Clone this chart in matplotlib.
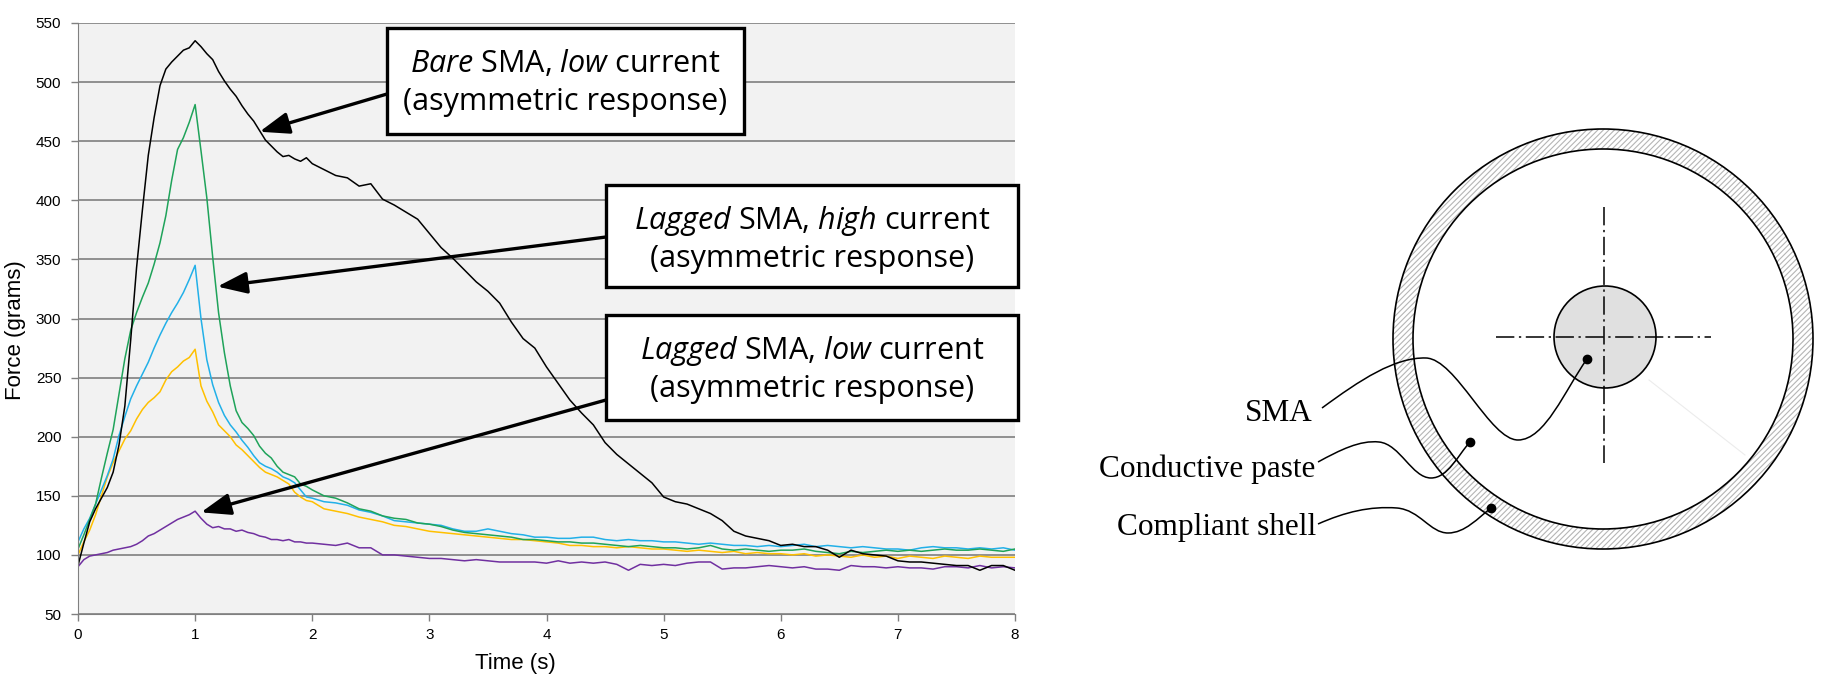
import numpy as np
import matplotlib
matplotlib.use("Agg")
import matplotlib.pyplot as plt
from matplotlib.patches import Rectangle, Circle, Annulus, PathPatch
from matplotlib.path import Path

plt.rcParams['font.family'] = ['Liberation Sans', 'DejaVu Sans']
plt.rcParams['mathtext.fontset'] = 'custom'
plt.rcParams['mathtext.rm'] = 'Open Sans'
plt.rcParams['mathtext.it'] = 'Open Sans:italic'
plt.rcParams['hatch.linewidth'] = 0.8

W, H = 1822, 690

# sampling grid: 0.05 s up to 2 s, then 0.1 s
time_s = np.round(np.concatenate([np.arange(0, 2.001, 0.05), np.arange(2.1, 8.001, 0.1)]), 2)

bare_low = [91, 110, 128, 139, 148, 157, 170, 193, 226, 282, 343, 392, 438, 470, 497, 511, 517, 522, 527, 529,
            535, 530, 524, 519, 509, 501, 494, 488, 480, 473, 467, 459, 451, 446, 441, 437, 438, 435, 433, 436, 431,
            426, 421, 419, 412, 414, 401, 396, 390, 384, 372,
            360, 351, 341, 331, 323, 313, 297, 283, 275, 259,
            245, 231, 220, 210, 195, 185, 177, 169, 161, 149,
            145, 143, 139, 135, 129, 120, 116, 114, 112, 108,
            109, 107, 107, 104, 98, 104, 101, 100, 99, 95,
            94, 94, 93, 92, 91, 91, 87, 91, 91, 87]

green = [105, 117, 130, 143, 165, 186, 206, 236, 266, 290, 305, 318, 330, 346, 364, 387, 417, 443, 453, 466,
         481, 442, 402, 352, 305, 271, 243, 222, 212, 207, 201, 192, 186, 182, 175, 170, 168, 166, 160, 158, 155,
         150, 148, 144, 139, 137, 133, 131, 130, 127, 126,
         124, 121, 119, 118, 117, 116, 115, 113, 113, 112,
         111, 111, 110, 110, 109, 108, 107, 108, 107, 106,
         106, 105, 106, 108, 105, 104, 105, 104, 103, 104,
         104, 105, 103, 102, 101, 103, 102, 103, 104, 103,
         104, 103, 104, 105, 104, 104, 105, 104, 103, 105]

blue = [111, 122, 131, 143, 155, 167, 181, 201, 217, 232, 243, 253, 263, 275, 286, 296, 305, 313, 322, 333,
        345, 300, 265, 244, 229, 218, 210, 204, 197, 191, 184, 178, 175, 173, 170, 166, 164, 161, 155, 149, 148,
        145, 144, 142, 138, 136, 133, 129, 128, 127, 126,
        125, 122, 120, 120, 122, 120, 118, 117, 115, 115,
        114, 114, 115, 115, 113, 112, 113, 112, 112, 111,
        111, 110, 109, 110, 109, 108, 108, 107, 108, 107,
        108, 109, 107, 108, 107, 106, 107, 106, 105, 105,
        104, 106, 107, 106, 106, 105, 106, 105, 106, 104]

yellow = [100, 111, 121, 134, 150, 166, 178, 188, 198, 205, 215, 223, 229, 233, 238, 248, 255, 259, 264, 267,
          274, 243, 230, 221, 210, 205, 200, 193, 189, 184, 179, 174, 170, 168, 166, 163, 160, 153, 149, 146, 145,
          139, 137, 135, 132, 130, 128, 125, 124, 122, 120,
          119, 118, 117, 116, 115, 114, 113, 113, 112, 111,
          110, 108, 108, 107, 107, 106, 107, 106, 105, 105,
          104, 103, 104, 103, 102, 103, 101, 102, 101, 101,
          100, 101, 99, 100, 99, 98, 100, 98, 99, 97,
          99, 98, 97, 99, 98, 97, 99, 98, 98, 98]

purple = [90, 96, 99, 100, 101, 102, 104, 105, 106, 107, 109, 112, 116, 118, 121, 124, 127, 130, 132, 134,
          137, 131, 126, 123, 124, 122, 122, 120, 121, 119, 118, 116, 115, 113, 113, 112, 113, 111, 111, 110, 110,
          109, 108, 110, 106, 106, 100, 100, 99, 98, 97,
          97, 96, 95, 96, 95, 94, 94, 94, 94, 93,
          95, 93, 94, 93, 94, 92, 87, 92, 91, 92,
          91, 93, 94, 94, 88, 89, 89, 90, 91, 90,
          89, 90, 88, 88, 87, 91, 90, 90, 89, 90,
          89, 89, 88, 90, 90, 89, 91, 89, 90, 89]

series = [(yellow, '#ffc000'), (blue, '#22b0e8'), (green, '#1fa35a'),
          (purple, '#7030a0'), (bare_low, '#000000')]

box_lines = [('$\\mathit{Bare}$ SMA, $\\mathit{low}$ current', '(asymmetric response)'),
             ('$\\mathit{Lagged}$ SMA, $\\mathit{high}$ current', '(asymmetric response)'),
             ('$\\mathit{Lagged}$ SMA, $\\mathit{low}$ current', '(asymmetric response)')]
arrow_tip_t = [1.55, 1.19, 1.05]
arrow_tip_f = [458, 327, 136]

diagram_labels = ['SMA', 'Conductive paste', 'Compliant shell']

fig = plt.figure(figsize=(W / 100, H / 100), dpi=100)

# ---- chart ----
ax = fig.add_axes([78 / W, 1 - 614 / H, (1015 - 78) / W, (614 - 23) / H])
ax.set_facecolor('#f2f2f2')
for vals, col in series:
    ax.plot(time_s, vals, color=col, lw=1.1)
ax.set_xlim(0, 8)
ax.set_ylim(50, 550)
ax.set_xticks(range(0, 9))
ax.set_yticks(range(50, 551, 50))
ax.grid(axis='y', color='#7f7f7f', lw=1.2)
ax.set_axisbelow(True)
for s in ['top', 'right']:
    ax.spines[s].set_visible(False)
for s in ['left', 'bottom']:
    ax.spines[s].set_color('#808080')
ax.tick_params(colors='#808080', labelcolor='black', labelsize=11, length=5, width=1)
ax.tick_params(axis='y', pad=7)
ax.tick_params(axis='x', pad=5)
fig.text(16 / W, 1 - 330 / H, 'Force (grams)', rotation=90, ha='center', va='center', fontsize=16)
fig.text(515 / W, 1 - 663 / H, 'Time (s)', ha='center', va='center', fontsize=16)

# ---- overlay in pixel units: callout boxes and the cross-section sketch ----
ov = fig.add_axes([0, 0, 1, 1], zorder=5)
ov.set_xlim(0, W)
ov.set_ylim(H, 0)
ov.axis('off')

boxes = [(387, 28, 357, 106), (606, 185, 412, 102), (606, 315, 412, 105)]
tails = [(387, 94), (606, 237), (606, 400)]
for (bx, by, bw, bh), (l1, l2), tail, tt, tf in zip(boxes, box_lines, tails, arrow_tip_t, arrow_tip_f):
    ov.add_patch(Rectangle((bx, by), bw, bh, fc='white', ec='black', lw=2.4))
    ov.text(bx + bw / 2, by + 44, l1, ha='center', va='baseline', fontsize=22, family='Open Sans')
    ov.text(bx + bw / 2, by + 82, l2, ha='center', va='baseline', fontsize=22, family='Open Sans')
    ov.annotate('', xy=(tt, tf), xycoords=ax.transData, xytext=tail, textcoords='data',
                arrowprops=dict(arrowstyle='-|>,head_length=1.5,head_width=0.55', color='black',
                                lw=2.4, shrinkA=0, shrinkB=0, mutation_scale=12))

cx, cy = 1603, 339
ov.add_patch(Annulus((cx, cy), 210, 20, fc='white', ec='#b5b5b5', lw=0, hatch='//////'))
ov.add_patch(Circle((cx, cy), 210, fc='none', ec='black', lw=1.2))
ov.add_patch(Circle((cx, cy), 190, fc='none', ec='black', lw=1.2))
ov.add_patch(Circle((1605, 337), 51, fc='#e0e0e0', ec='black', lw=1.2))
ov.plot([1496, 1711], [337, 337], color='black', lw=1.1, ls=(0, (12, 3, 1.5, 3)))
ov.plot([1604, 1604], [207, 463], color='black', lw=1.1, ls=(0, (12, 3, 1.5, 3)))
ov.plot([1649, 1745], [380, 455], color='#ececec', lw=0.8)

leaders = [
    [(1322, 408), (1360, 380), (1395, 357), (1426, 358),
     (1456, 359), (1490, 440), (1518, 440),
     (1545, 440), (1565, 390), (1587, 359)],
    [(1318, 462), (1340, 450), (1360, 440), (1379, 442),
     (1400, 444), (1412, 478), (1431, 478),
     (1448, 478), (1458, 455), (1470, 442)],
    [(1318, 524), (1345, 512), (1370, 506), (1397, 508),
     (1420, 510), (1430, 533), (1448, 533),
     (1465, 533), (1478, 518), (1491, 508)],
]
for pts in leaders:
    codes = [Path.MOVETO] + [Path.CURVE4] * 9
    ov.add_patch(PathPatch(Path(pts, codes), fc='none', ec='black', lw=1.1))
    ov.plot(pts[-1][0], pts[-1][1], 'o', color='black', ms=6)

label_pos = [(1313, 421), (1315, 477), (1316, 535)]
for (lx, ly), lab in zip(label_pos, diagram_labels):
    ov.text(lx, ly, lab, ha='right', va='baseline', fontsize=22.5, family='Liberation Serif')

fig.savefig('out.png', dpi=100)
